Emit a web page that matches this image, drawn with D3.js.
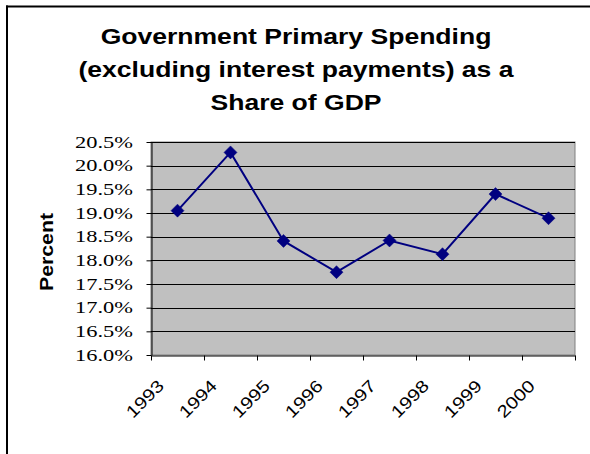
<!DOCTYPE html>
<html><head><meta charset="utf-8">
<script src="https://cdn.jsdelivr.net/npm/d3@7"></script>
<style>html,body{margin:0;padding:0;background:#fff;overflow:hidden}</style>
</head><body><svg id="c" width="590" height="454"></svg>
<script>
const years = ["1993","1994","1995","1996","1997","1998","1999","2000"];
const spending = [19.05, 20.28, 18.41, 17.75, 18.42, 18.13, 19.40, 18.89];
const yTicks = [16.0,16.5,17.0,17.5,18.0,18.5,19.0,19.5,20.0,20.5];
const titleLines = ["Government Primary Spending","(excluding interest payments) as a","Share of GDP"];
const yLabel = "Percent";

const svg = d3.select("#c");
const L = 151, R = 575, T = 142, B = 355;
const sansF = "'Liberation Sans', Arial, sans-serif";
const serifF = "'Liberation Serif', 'Times New Roman', Times, serif";

// outer frame (cropped)
svg.append("line").attr("x1",7).attr("x2",7).attr("y1",5.5).attr("y2",460).attr("stroke","#000").attr("stroke-width",2);
svg.append("line").attr("x1",6).attr("x2",600).attr("y1",6.5).attr("y2",6.5).attr("stroke","#000").attr("stroke-width",2);

// title
svg.append("g").selectAll("text").data(titleLines).join("text")
  .attr("transform",(d,i)=>`translate(296,${43.5+i*33}) scale(1.18,1)`)
  .attr("text-anchor","middle").style("font-family",sansF).style("font-weight","bold")
  .style("font-size","22.5px").attr("fill","#000").text(d=>d);

const x = d3.scaleBand().domain(years).range([L,R]).paddingInner(0).paddingOuter(0);
const xb = d3.scaleLinear().domain([0,years.length]).range([L,R]);
const y = d3.scaleLinear().domain([16,20.5]).range([B,T]);

// plot area
svg.append("rect").attr("x",L).attr("y",T).attr("width",R-L).attr("height",B-T)
  .attr("fill","#c0c0c0").attr("stroke","#808080").attr("stroke-width",1);

// gridlines
svg.append("g").selectAll("line").data(yTicks.slice(1)).join("line")
  .attr("x1",L).attr("x2",R).attr("y1",d=>Math.round(y(d))+0.5).attr("y2",d=>Math.round(y(d))+0.5)
  .attr("stroke","#000").attr("stroke-width",1);

// y axis (line + ticks)
const ya = svg.append("g").attr("transform",`translate(${L+0.5},0)`)
  .call(d3.axisLeft(y).tickValues(yTicks).tickSize(5).tickSizeOuter(0).tickFormat(""));
ya.select(".domain").attr("stroke","#000");
ya.selectAll(".tick line").attr("stroke","#000");
ya.selectAll(".tick text").remove();

// y tick labels
svg.append("g").selectAll("text").data(yTicks).join("text")
  .attr("transform",d=>`translate(${L-18},${y(d)+5.8}) scale(1.32,1)`)
  .attr("text-anchor","end")
  .style("font-family",serifF).style("font-size","17px").attr("fill","#000")
  .text(d=>d3.format(".1f")(d)+"%");

// x axis boundary ticks
const xa = svg.append("g").attr("transform",`translate(0,${B+0.5})`)
  .call(d3.axisBottom(xb).tickValues(d3.range(years.length+1)).tickSize(5).tickSizeOuter(0).tickFormat(""));
xa.select(".domain").attr("stroke","#000");
xa.selectAll(".tick line").attr("stroke","#000");
xa.selectAll(".tick text").remove();

// x labels
svg.append("g").selectAll("text").data(years).join("text")
  .attr("transform",d=>`translate(${x(d)+x.bandwidth()/2-12.5},387) rotate(-45) scale(1.2,1)`)
  .attr("text-anchor","end").style("font-family",sansF).style("font-size","17px").attr("fill","#000").text(d=>d);

// y label
svg.append("text").attr("transform","translate(53,252) rotate(-90) scale(1.12,1)")
  .attr("text-anchor","middle").style("font-family",sansF).style("font-weight","bold")
  .style("font-size","19px").attr("fill","#000").text(yLabel);

// line
const rows = years.map((d,i)=>({yr:d,v:spending[i]}));
svg.append("path").datum(rows)
  .attr("d",d3.line().x(d=>x(d.yr)+x.bandwidth()/2).y(d=>y(d.v)))
  .attr("fill","none").attr("stroke","#000080").attr("stroke-width",2);

// markers
svg.append("g").selectAll("path").data(rows).join("path")
  .attr("transform",d=>`translate(${x(d.yr)+x.bandwidth()/2},${y(d.v)})`)
  .attr("d","M0,-6.5L6.5,0L0,6.5L-6.5,0Z").attr("fill","#000080").attr("stroke","#000080").attr("stroke-width",0.5);
</script></body></html>
